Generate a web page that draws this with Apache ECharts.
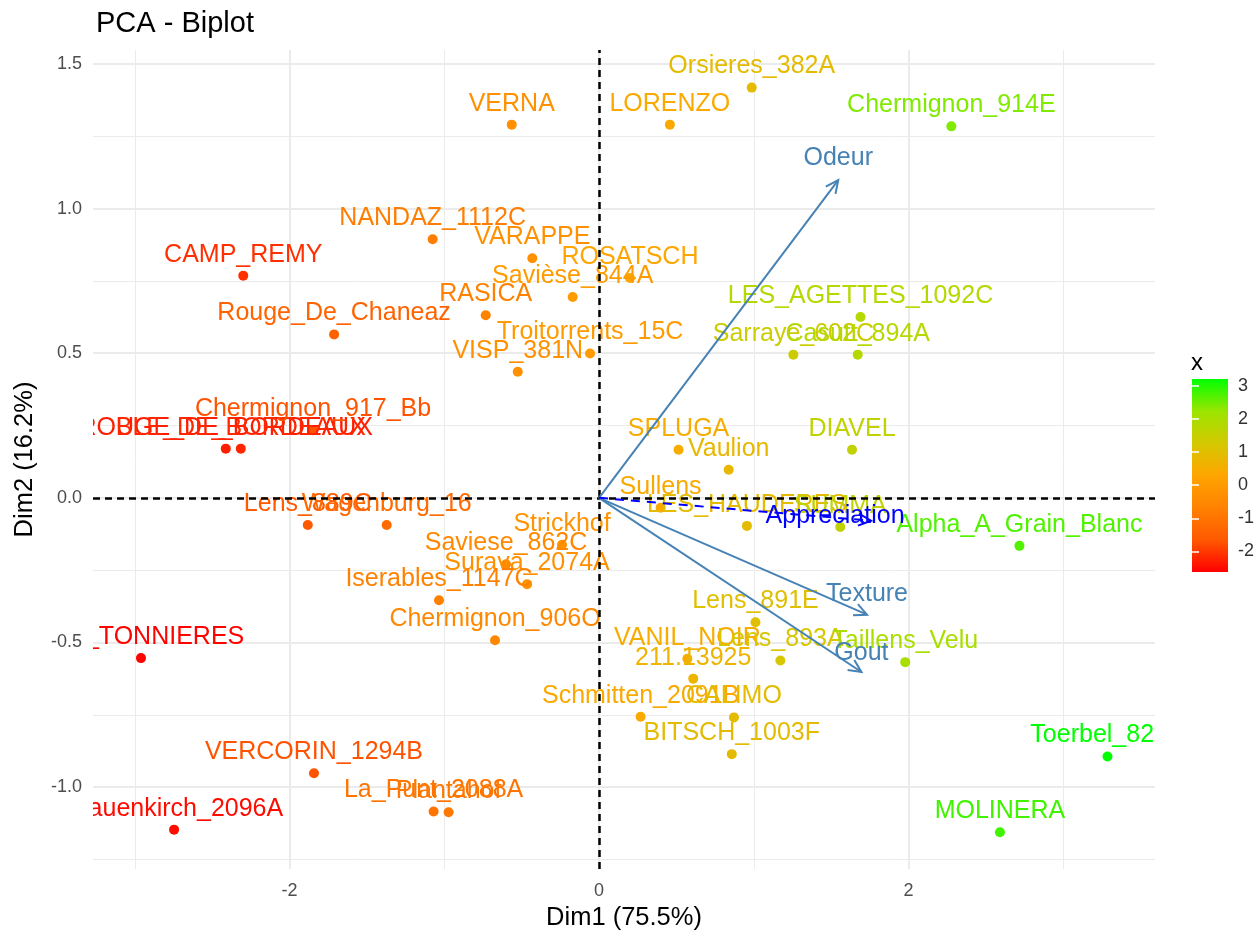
<!DOCTYPE html>
<html><head><meta charset="utf-8">
<script src="https://cdn.jsdelivr.net/npm/echarts@6/dist/echarts.min.js"></script>
<style>html,body{margin:0;padding:0;background:#fff}#c{width:1257px;height:936px}</style>
</head><body><div id="c"></div>
<script>
// ---- data ----
const names = ['Orsieres_382A','LORENZO','VERNA','Chermignon_914E','NANDAZ_1112C','VARAPPE','ROSATSCH','CAMP_REMY',
 'Savièse_844A','RASICA','Rouge_De_Chaneaz','LES_AGETTES_1092C','Troitorrents_15C','Sarraye_602C','Casutt_894A','VISP_381N',
 'ROUGE_DE_BORDEAUX','BLE_DE_BORDEAUX','Chermignon_917_Bb','SPLUGA','DIAVEL','Vaulion','Sullens','LES_HAUDERES','SUMMA',
 'Alpha_A_Grain_Blanc','Lens_889C','Wagenburg_16','Strickhof','Saviese_862C','Surava_2074A','Iserables_1147C','Chermignon_906O',
 'LES_TONNIERES','Lens_891E','VANIL_NOIR','211.13925','Lens_893A','Taillens_Velu','Schmitten_2091B','CALIMO','BITSCH_1003F',
 'Toerbel_823A','VERCORIN_1294B','La_Punt_2088A','Plantahof','Frauenkirch_2096A','MOLINERA'];
const dim1 = [0.987,0.458,-0.564,2.277,-1.075,-0.431,0.200,-2.299,
 -0.170,-0.732,-1.712,1.690,-0.058,1.256,1.672,-0.525,
 -2.412,-2.315,-1.848,0.514,1.635,0.838,0.398,0.956,1.559,
 2.717,-1.882,-1.372,-0.239,-0.601,-0.465,-1.034,-0.672,
 -2.960,1.011,0.571,0.609,1.172,1.979,0.269,0.872,0.858,
 3.286,-1.842,-1.069,-0.972,-2.746,2.591];
const dim2 = [1.418,1.290,1.290,1.284,0.894,0.828,0.760,0.768,
 0.694,0.631,0.565,0.625,0.499,0.495,0.495,0.436,
 0.170,0.170,0.234,0.166,0.166,0.097,-0.034,-0.097,-0.101,
 -0.166,-0.094,-0.094,-0.162,-0.230,-0.299,-0.354,-0.492,
 -0.554,-0.430,-0.556,-0.625,-0.562,-0.568,-0.757,-0.759,-0.886,
 -0.894,-0.952,-1.084,-1.087,-1.147,-1.156];
const colorVar = [0.9,0.4,-0.3,2.4,-0.8,-0.3,0.3,-2.1,
 0.0,-0.7,-1.4,1.8,0.0,1.4,1.8,-0.3,
 -2.3,-2.2,-1.7,0.5,1.6,0.8,0.4,0.9,1.6,
 2.7,-1.6,-1.2,-0.2,-0.5,-0.3,-0.7,-0.5,
 -2.6,1.0,0.5,0.7,1.2,2.0,0.4,0.9,0.9,
 3.2,-1.7,-1.0,-0.9,-2.5,2.8];
const varNames = ['Odeur','Texture','Gout','Appreciation'];
const varDim1 = [1.546,1.732,1.696,1.758];
const varDim2 = [1.098,-0.404,-0.602,-0.079];
const varSupp = [false,false,false,true];
const xTicks = [-2,0,2];
const xMinor = [-3,-1,1,3];
const yTicks = [-1,-0.5,0,0.5,1,1.5];
const yMinor = [-1.25,-0.75,-0.25,0.25,0.75,1.25];
const legendTicks = [-2,-1,0,1,2,3];
const colorMin = -2.62, colorMax = 3.2;

// ---- styles ----
const FONT = '"Liberation Sans", Arial, Helvetica, sans-serif';
const LABEL_SIZE = 25;
const palette = ['#FF0000','#FF5800','#FF8200','#FFA500','#D4C800','#9BE500','#00FF00'];
const varLabelShift = {Odeur:[0,-22], Texture:[0,-21], Gout:[0,-19], Appreciation:[-36,-5]};

const chart = echarts.init(document.getElementById('c'), null, {renderer:'canvas'});
const pts = names.map((n,i)=>[dim1[i], dim2[i], colorVar[i], i]);
const gridLines = []
  .concat(xTicks.map(v=>({xAxis:v, lineStyle:{width:2}})))
  .concat(xMinor.map(v=>({xAxis:v, lineStyle:{width:1}})))
  .concat(yTicks.map(v=>({yAxis:v, lineStyle:{width:2}})))
  .concat(yMinor.map(v=>({yAxis:v, lineStyle:{width:1}})));

const option = {
  animation:false,
  backgroundColor:'#fff',
  title:{text:'PCA - Biplot', left:91, top:4, textStyle:{fontFamily:FONT, fontSize:29, fontWeight:'normal', color:'#000'}},
  grid:[{left:93, top:50, width:1062, height:823}, {left:1192, top:379, width:38, height:193}],
  xAxis:[
    {type:'value', gridIndex:0, min:-3.27, max:3.593, axisLine:{show:false}, axisTick:{show:false}, splitLine:{show:false},
     axisLabel:{customValues:xTicks, color:'#4d4d4d', fontSize:18, fontFamily:FONT, margin:13},
     name:'Dim1 (75.5%)', nameLocation:'middle', nameGap:36, nameTextStyle:{fontFamily:FONT, fontSize:25.5, color:'#000'}},
    {type:'value', gridIndex:1, min:0, max:1, show:false}
  ],
  yAxis:[
    {type:'value', gridIndex:0, min:-1.283, max:1.548, axisLine:{show:false}, axisTick:{show:false}, splitLine:{show:false},
     axisLabel:{customValues:yTicks, formatter:v=>Number(v).toFixed(1), color:'#4d4d4d', fontSize:18, fontFamily:FONT, margin:11},
     name:'Dim2 (16.2%)', nameLocation:'middle', nameGap:55, nameRotate:90, nameTextStyle:{fontFamily:FONT, fontSize:25.5, color:'#000'}},
    {type:'value', gridIndex:1, min:colorMin, max:colorMax, position:'right', z:10, axisLine:{show:false}, splitLine:{show:false},
     axisTick:{show:true, inside:true, length:7, customValues:legendTicks, lineStyle:{color:'#fff', width:1.5}},
     axisLabel:{customValues:legendTicks, color:'#333', fontSize:18, fontFamily:FONT, margin:10}},
    {type:'value', gridIndex:1, min:colorMin, max:colorMax, position:'left', z:10, axisLine:{show:false}, splitLine:{show:false},
     axisTick:{show:true, inside:true, length:7, customValues:legendTicks, lineStyle:{color:'#fff', width:1.5}},
     axisLabel:{show:false}}
  ],
  visualMap:{show:false, type:'continuous', min:colorMin, max:colorMax, dimension:2, seriesIndex:[1,2], inRange:{color:palette}},
  graphic:[{type:'text', left:1191, top:351, style:{text:'x', fontFamily:FONT, fontSize:24, fill:'#000'}}],
  series:[
    {type:'scatter', xAxisIndex:0, yAxisIndex:0, data:[], silent:true, z:0,
     markLine:{silent:true, z:0, symbol:['none','none'], label:{show:false}, lineStyle:{color:'#ebebeb', type:'solid'}, data:gridLines}},
    {type:'custom', xAxisIndex:0, yAxisIndex:0, data:pts, z:2, clip:true,
     renderItem:(params, api)=>{
       const p = api.coord([api.value(0), api.value(1)]);
       return {type:'circle', shape:{cx:p[0], cy:p[1], r:5}, style:{fill:api.visual('color')}};
     }},
    {type:'custom', xAxisIndex:0, yAxisIndex:0, data:pts, z:3, clip:true,
     renderItem:(params, api)=>{
       const p = api.coord([api.value(0), api.value(1)]);
       return {type:'text', x:p[0], y:p[1]-21, style:{text:names[params.dataIndex], fill:api.visual('color'),
         fontFamily:FONT, fontSize:LABEL_SIZE, align:'center', verticalAlign:'middle'}};
     }},
    {type:'scatter', xAxisIndex:0, yAxisIndex:0, data:[], silent:true, z:4,
     markLine:{silent:true, z:4, symbol:['none','none'], label:{show:false}, lineStyle:{color:'#000', type:[7,5], width:2.5},
       data:[{xAxis:0},{yAxis:0}]}},
    {type:'custom', xAxisIndex:0, yAxisIndex:0, data:varNames.map((n,i)=>[varDim1[i], varDim2[i]]), z:6,
     renderItem:(params, api)=>{
       const i = params.dataIndex;
       const o = api.coord([0,0]);
       const e = api.coord([api.value(0), api.value(1)]);
       const ang = Math.atan2(e[1]-o[1], e[0]-o[0]);
       const L = 14, A = Math.PI/7;
       const h1 = [e[0]-L*Math.cos(ang-A), e[1]-L*Math.sin(ang-A)];
       const h2 = [e[0]-L*Math.cos(ang+A), e[1]-L*Math.sin(ang+A)];
       const col = varSupp[i] ? '#0000FF' : '#4682B4';
       const sh = varLabelShift[varNames[i]];
       return {type:'group', children:[
         {type:'line', shape:{x1:o[0], y1:o[1], x2:e[0], y2:e[1]}, style:{stroke:col, lineWidth:2, lineDash: varSupp[i] ? [9,7] : null}},
         {type:'polyline', shape:{points:[h1, e, h2]}, style:{stroke:col, lineWidth:2, fill:null}},
         {type:'text', x:e[0]+sh[0], y:e[1]+sh[1], style:{text:varNames[i], fill:col, fontFamily:FONT, fontSize:LABEL_SIZE, align:'center', verticalAlign:'middle'}}
       ]};
     }},
    {type:'custom', xAxisIndex:1, yAxisIndex:1, data:[[0]], z:2, silent:true,
     renderItem:(params, api)=>{
       const a = api.coord([0, colorMax]);
       const b = api.coord([1, colorMin]);
       return {type:'rect', shape:{x:a[0], y:a[1], width:b[0]-a[0], height:b[1]-a[1]},
         style:{fill:{type:'linear', x:0, y:1, x2:0, y2:0,
           colorStops: palette.map((c,k)=>({offset:k/(palette.length-1), color:c}))}}};
     }}
  ]
};
chart.setOption(option);
</script>
</body></html>
